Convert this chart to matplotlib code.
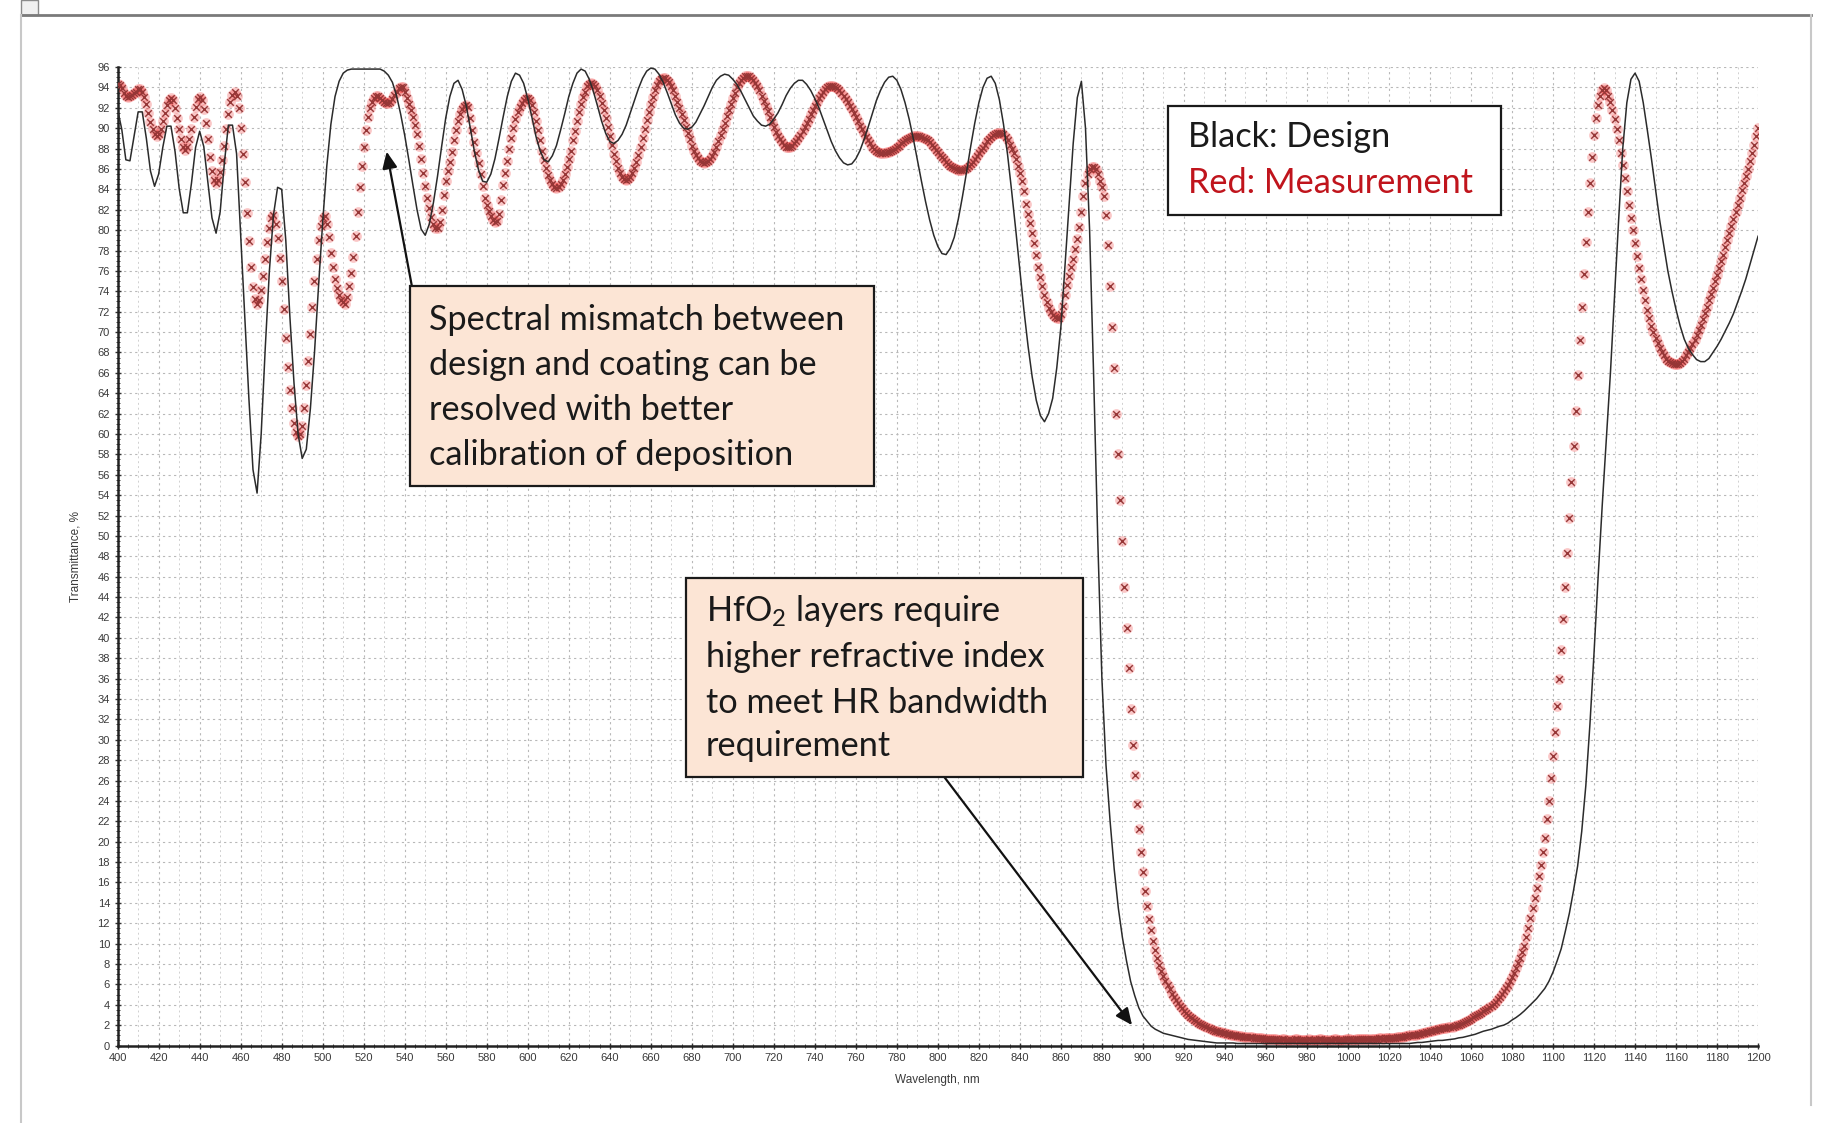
import numpy as np
import matplotlib
matplotlib.use("Agg")
import matplotlib.pyplot as plt
from matplotlib.patches import Rectangle
from matplotlib.lines import Line2D
from matplotlib.ticker import MultipleLocator

plt.rcParams['font.family'] = ['Liberation Sans', 'DejaVu Sans']
plt.rcParams['mathtext.fontset'] = 'custom'
plt.rcParams['mathtext.rm'] = 'Lato'

meas_wavelength = np.arange(400, 1201, 1)
meas_T = [
    94.3, 94.2, 93.9, 93.5, 93.2, 93.1, 93.2, 93.3, 93.5, 93.6, 93.8, 93.8, 93.6, 93.1, 92.4, 91.5, 90.6, 89.9, 89.4, 89.2,
    89.4, 89.9, 90.7, 91.5, 92.3, 92.8, 93.0, 92.8, 92.0, 91.0, 89.9, 88.9, 88.2, 87.9, 88.2, 88.9, 89.9, 91.1, 92.1, 92.9,
    93.1, 92.8, 91.9, 90.5, 88.9, 87.2, 85.8, 84.9, 84.6, 84.9, 85.7, 86.9, 88.3, 89.9, 91.4, 92.6, 93.3, 93.6, 93.2, 92.0,
    90.0, 87.5, 84.7, 81.7, 78.9, 76.4, 74.4, 73.2, 72.8, 73.1, 74.1, 75.5, 77.2, 78.8, 80.2, 81.2, 81.5, 80.6, 79.2, 77.3,
    75.0, 72.3, 69.4, 66.6, 64.3, 62.5, 61.1, 60.2, 59.8, 60.0, 60.8, 62.5, 64.8, 67.2, 69.8, 72.5, 75.0, 77.2, 79.0, 80.4,
    81.2, 81.4, 80.6, 79.3, 77.8, 76.4, 75.2, 74.3, 73.6, 73.1, 72.9, 72.8, 73.4, 74.5, 75.8, 77.4, 79.4, 81.8, 84.2, 86.3,
    88.2, 89.8, 91.1, 92.0, 92.6, 93.0, 93.2, 93.2, 93.0, 92.8, 92.6, 92.5, 92.5, 92.6, 92.9, 93.3, 93.6, 93.9, 94.0, 94.0,
    93.6, 93.0, 92.4, 91.8, 91.1, 90.3, 89.4, 88.3, 87.0, 85.6, 84.3, 83.2, 82.2, 81.3, 80.6, 80.2, 80.2, 80.8, 82.0, 83.4,
    84.8, 85.8, 86.7, 87.7, 88.8, 89.8, 90.7, 91.4, 91.9, 92.2, 92.3, 92.1, 91.0, 89.8, 88.6, 87.6, 86.6, 85.5, 84.3, 83.2,
    82.5, 81.9, 81.4, 81.0, 80.8, 80.9, 81.6, 83.0, 84.4, 85.6, 86.8, 88.0, 89.0, 90.0, 90.9, 91.6, 92.1, 92.5, 92.8, 93.0,
    93.0, 92.8, 92.3, 91.6, 90.7, 89.8, 88.8, 87.8, 86.9, 86.1, 85.4, 84.9, 84.5, 84.2, 84.1, 84.2, 84.5, 84.9, 85.5, 86.2,
    87.0, 87.8, 88.8, 89.7, 90.7, 91.6, 92.4, 93.1, 93.6, 94.1, 94.3, 94.4, 94.3, 94.1, 93.7, 93.2, 92.5, 91.8, 91.0, 90.1,
    89.2, 88.4, 87.5, 86.8, 86.1, 85.6, 85.2, 85.0, 84.9, 85.0, 85.2, 85.6, 86.1, 86.7, 87.4, 88.2, 89.0, 89.9, 90.8, 91.6,
    92.4, 93.1, 93.7, 94.2, 94.6, 94.8, 94.9, 94.9, 94.7, 94.5, 94.1, 93.7, 93.2, 92.6, 92.0, 91.4, 90.8, 90.1, 89.5, 88.9,
    88.3, 87.8, 87.4, 87.1, 86.8, 86.7, 86.6, 86.7, 86.8, 87.0, 87.3, 87.7, 88.2, 88.7, 89.3, 89.9, 90.5, 91.2, 91.8, 92.4,
    93.0, 93.5, 94.0, 94.4, 94.7, 94.9, 95.1, 95.1, 95.1, 94.9, 94.7, 94.4, 94.1, 93.7, 93.2, 92.7, 92.2, 91.7, 91.1, 90.6,
    90.1, 89.6, 89.2, 88.9, 88.6, 88.4, 88.2, 88.2, 88.2, 88.3, 88.5, 88.7, 89.0, 89.3, 89.7, 90.1, 90.5, 90.9, 91.4, 91.8,
    92.2, 92.6, 93.0, 93.3, 93.6, 93.8, 94.0, 94.1, 94.1, 94.1, 94.0, 93.9, 93.7, 93.5, 93.2, 92.9, 92.6, 92.2, 91.9, 91.5,
    91.1, 90.7, 90.2, 89.9, 89.5, 89.1, 88.8, 88.5, 88.2, 88.0, 87.8, 87.7, 87.6, 87.6, 87.6, 87.7, 87.7, 87.8, 87.9, 88.0,
    88.2, 88.3, 88.5, 88.6, 88.8, 88.9, 89.0, 89.1, 89.2, 89.2, 89.2, 89.2, 89.1, 89.0, 88.9, 88.8, 88.6, 88.4, 88.2, 87.9,
    87.7, 87.4, 87.2, 87.0, 86.7, 86.5, 86.3, 86.2, 86.1, 86.0, 85.9, 85.9, 85.9, 86.0, 86.1, 86.3, 86.5, 86.7, 87.0, 87.3,
    87.6, 87.9, 88.1, 88.4, 88.7, 88.9, 89.1, 89.3, 89.4, 89.5, 89.5, 89.5, 89.4, 89.1, 88.8, 88.4, 88.0, 87.6, 87.0, 86.3,
    85.6, 84.8, 83.8, 82.6, 81.6, 80.7, 79.7, 78.7, 77.6, 76.4, 75.4, 74.5, 73.6, 72.9, 72.4, 72.0, 71.7, 71.5, 71.4, 71.4,
    71.8, 72.6, 73.6, 74.6, 75.5, 76.4, 77.2, 78.1, 79.1, 80.3, 81.8, 83.3, 84.6, 85.5, 86.0, 86.2, 86.2, 86.0, 85.5, 84.8,
    84.2, 83.3, 81.5, 78.5, 74.5, 70.5, 66.5, 62.0, 58.0, 53.5, 49.5, 45.0, 41.0, 37.0, 33.0, 29.5, 26.5, 23.7, 21.2, 19.0,
    17.0, 15.2, 13.7, 12.4, 11.3, 10.3, 9.4, 8.6, 7.9, 7.3, 6.8, 6.3, 5.9, 5.5, 5.1, 4.8, 4.5, 4.2, 3.9, 3.7,
    3.4, 3.2, 3.0, 2.8, 2.7, 2.5, 2.4, 2.2, 2.1, 2.0, 1.9, 1.8, 1.7, 1.6, 1.5, 1.45, 1.4, 1.35, 1.3, 1.25,
    1.2, 1.15, 1.1, 1.05, 1.0, 1.0, 0.95, 0.9, 0.9, 0.85, 0.85, 0.8, 0.8, 0.8, 0.75, 0.75, 0.7, 0.7, 0.7, 0.65,
    0.65, 0.65, 0.6, 0.6, 0.6, 0.6, 0.55, 0.55, 0.6, 0.6, 0.55, 0.55, 0.5, 0.55, 0.6, 0.6, 0.55, 0.5, 0.5, 0.55,
    0.55, 0.6, 0.55, 0.5, 0.5, 0.55, 0.6, 0.6, 0.55, 0.5, 0.5, 0.55, 0.55, 0.6, 0.6, 0.55, 0.55, 0.5, 0.55, 0.6,
    0.6, 0.6, 0.55, 0.55, 0.6, 0.6, 0.65, 0.6, 0.6, 0.6, 0.65, 0.65, 0.6, 0.65, 0.65, 0.7, 0.7, 0.65, 0.7, 0.7,
    0.7, 0.72, 0.75, 0.78, 0.8, 0.82, 0.85, 0.88, 0.9, 0.95, 1.0, 1.02, 1.05, 1.08, 1.1, 1.15, 1.2, 1.25, 1.3, 1.35,
    1.4, 1.45, 1.5, 1.55, 1.6, 1.65, 1.7, 1.72, 1.75, 1.78, 1.8, 1.85, 1.9, 2.0, 2.05, 2.15, 2.25, 2.35, 2.45, 2.55,
    2.65, 2.75, 2.85, 3.0, 3.1, 3.2, 3.35, 3.5, 3.6, 3.75, 3.9, 4.1, 4.3, 4.55, 4.8, 5.05, 5.3, 5.6, 5.9, 6.3,
    6.7, 7.1, 7.6, 8.1, 8.6, 9.2, 9.8, 10.6, 11.5, 12.5, 13.5, 14.5, 15.5, 16.6, 17.7, 19.0, 20.4, 22.2, 24.0, 26.2,
    28.4, 30.8, 33.3, 36.0, 38.8, 41.8, 45.0, 48.3, 51.8, 55.3, 58.8, 62.3, 65.8, 69.2, 72.5, 75.7, 78.8, 81.8, 84.6, 87.2,
    89.3, 91.0, 92.3, 93.2, 93.7, 93.9, 93.7, 93.2, 92.6, 91.8, 90.9, 89.9, 88.8, 87.6, 86.4, 85.1, 83.8, 82.5, 81.2, 80.0,
    78.7, 77.5, 76.3, 75.2, 74.1, 73.1, 72.2, 71.4, 70.6, 70.0, 69.4, 68.9, 68.4, 68.0, 67.7, 67.4, 67.2, 67.1, 67.0, 66.9,
    66.9, 66.9, 67.0, 67.2, 67.4, 67.7, 68.0, 68.4, 68.8, 69.2, 69.7, 70.2, 70.7, 71.3, 71.9, 72.5, 73.1, 73.7, 74.3, 75.0,
    75.6, 76.3, 77.0, 77.6, 78.3, 79.0, 79.7, 80.4, 81.1, 81.8, 82.5, 83.2, 83.9, 84.6, 85.3, 86.0, 86.8, 87.6, 88.4, 89.2,
    90.0,
]

# design transmittance, 2 nm steps
design_wavelength = np.arange(400, 1201, 2)
design_T = [
    91.8, 89.9, 86.9, 86.8, 89.2, 91.6, 91.6, 89.0, 85.8, 84.3,
    85.5, 88.1, 90.2, 90.2, 87.7, 84.1, 81.7, 81.7, 84.6, 88.1,
    89.7, 88.2, 84.7, 81.2, 79.7, 81.8, 86.5, 90.3, 90.3, 87.5,
    79.5, 71.5, 63.5, 56.5, 54.2, 60.0, 68.5, 76.0, 81.5, 84.2,
    84.0, 79.0, 71.5, 65.0, 60.0, 57.6, 58.5, 62.5, 68.0, 74.6,
    80.8, 86.3, 90.4, 93.1, 94.6, 95.4, 95.7, 95.8, 95.8, 95.8,
    95.8, 95.8, 95.8, 95.8, 95.8, 95.6, 95.2, 94.5, 93.2, 91.4,
    89.3, 86.9, 84.4, 82.0, 80.1, 79.5, 80.6, 82.7, 85.3, 88.2,
    91.0, 93.1, 94.4, 94.7, 93.8, 92.2, 90.0, 87.7, 85.9, 84.8,
    84.7, 85.5, 87.0, 89.0, 91.1, 93.1, 94.6, 95.4, 95.2, 94.4,
    92.9, 91.1, 89.2, 87.8, 86.9, 86.7, 87.3, 88.3, 89.8, 91.4,
    93.1, 94.4, 95.4, 95.8, 95.6, 94.8, 93.6, 92.2, 90.7, 89.5,
    88.7, 88.5, 88.8, 89.4, 90.3, 91.5, 92.7, 93.9, 94.9, 95.6,
    95.9, 95.8, 95.3, 94.5, 93.5, 92.4, 91.3, 90.5, 90.0, 89.9,
    90.1, 90.6, 91.4, 92.2, 93.1, 94.0, 94.7, 95.1, 95.3, 95.2,
    94.8, 94.3, 93.6, 92.8, 92.0, 91.2, 90.7, 90.3, 90.2, 90.4,
    90.9, 91.5, 92.3, 93.2, 93.9, 94.4, 94.7, 94.7, 94.3, 93.7,
    92.9, 92.0, 90.9, 89.8, 88.7, 87.8, 87.1, 86.6, 86.4, 86.5,
    87.0, 87.8, 88.9, 90.1, 91.4, 92.7, 93.7, 94.5, 95.0, 95.1,
    94.7, 93.8, 92.5, 90.9, 89.0, 86.9, 84.8, 82.8, 81.0, 79.5,
    78.4, 77.7, 77.6, 78.2, 79.3, 81.1, 83.3, 85.7, 88.2, 90.5,
    92.5, 94.0, 94.9, 95.1, 94.4, 92.8, 90.4, 87.4, 83.8, 80.0,
    76.0, 72.1, 68.6, 65.6, 63.3, 61.8, 61.2, 62.0, 63.5, 66.5,
    70.5, 76.5, 82.5, 88.5, 93.0, 94.6, 90.0, 80.0, 65.5, 49.5,
    36.0, 27.5, 22.0, 17.3, 13.5, 10.6, 8.3, 6.3, 4.9, 3.7,
    2.9, 2.4, 1.9, 1.6, 1.4, 1.2, 1.1, 1.0, 0.9, 0.8,
    0.7, 0.6, 0.55, 0.5, 0.45, 0.4, 0.35, 0.3, 0.25, 0.25,
    0.25, 0.25, 0.25, 0.2, 0.2, 0.2, 0.2, 0.2, 0.2, 0.2,
    0.2, 0.2, 0.2, 0.2, 0.2, 0.2, 0.2, 0.2, 0.2, 0.2,
    0.2, 0.2, 0.2, 0.2, 0.2, 0.2, 0.2, 0.2, 0.2, 0.2,
    0.2, 0.2, 0.2, 0.2, 0.2, 0.2, 0.2, 0.2, 0.2, 0.2,
    0.2, 0.2, 0.2, 0.2, 0.2, 0.2, 0.25, 0.3, 0.3, 0.35,
    0.4, 0.45, 0.5, 0.5, 0.55, 0.6, 0.65, 0.75, 0.8, 0.9,
    1.0, 1.1, 1.25, 1.4, 1.5, 1.6, 1.75, 1.9, 2.0, 2.2,
    2.5, 2.75, 3.05, 3.4, 3.8, 4.2, 4.6, 5.1, 5.6, 6.3,
    7.2, 8.3, 9.5, 11.2, 13.0, 15.2, 17.6, 21.0, 25.5, 31.5,
    38.5, 46.0, 53.0, 59.5, 66.0, 73.5, 81.0, 88.0, 92.5, 94.8,
    95.4, 94.6, 92.5, 89.8, 87.0, 84.0, 81.0, 78.5, 76.0, 74.0,
    72.2, 70.6, 69.3, 68.4, 67.8, 67.3, 67.1, 67.1, 67.4, 68.0,
    68.6, 69.3, 70.1, 70.9, 71.8, 72.9, 74.0, 75.2, 76.6, 78.0,
    79.4,
]

assert len(meas_T) == len(meas_wavelength)
assert len(design_T) == len(design_wavelength)

x_ticks = list(range(400, 1201, 20))
y_ticks = list(range(0, 97, 2))

fig = plt.figure(figsize=(18.44, 11.23), dpi=100)
ax = fig.add_axes([0.0638, 0.069, 0.8896, 0.8713])

# faint 10 nm vertical lines between the labelled ones
for xv in range(410, 1200, 20):
    ax.axvline(xv, color='#d0d0d0', lw=0.7, ls=(0, (2, 3)), zorder=0)
ax.grid(which='major', color='#b8b8b8', lw=0.8, ls=(0, (2, 3)), zorder=0)
ax.set_axisbelow(True)

# measurement: red crosses with a soft halo
ax.scatter(meas_wavelength, meas_T, s=60, marker='o', color='#ee2a2a',
           alpha=0.26, linewidths=0, zorder=2)
ax.scatter(meas_wavelength, meas_T, s=22, marker='x', color='#963636',
           linewidths=1.0, zorder=3)
# design: thin dark line
ax.plot(design_wavelength, design_T, color='#2b2b2b', lw=1.1, zorder=4)

ax.set_xlim(400, 1200)
ax.set_ylim(0, 96)
ax.set_xticks(x_ticks)
ax.set_yticks(y_ticks)
ax.xaxis.set_minor_locator(MultipleLocator(5))
ax.yaxis.set_minor_locator(MultipleLocator(0.5))
ax.tick_params(which='major', direction='inout', length=5, width=1.0,
               color='#333333', labelcolor='#3a3a3a', labelsize=8, pad=3)
ax.tick_params(which='minor', direction='inout', length=3, width=0.7,
               color='#444444')

for side in ['top', 'right']:
    ax.spines[side].set_visible(False)
for side in ['left', 'bottom']:
    ax.spines[side].set_color('#222222')
    ax.spines[side].set_linewidth(1.8)

ax.set_xlabel('Wavelength, nm', fontsize=8.5, color='#3a3a3a')
ax.set_ylabel('Transmittance, %', fontsize=8.5, color='#3a3a3a')
ax.xaxis.set_label_coords(0.5, -0.029)
ax.yaxis.set_label_coords(-0.022, 0.5)

box_font = dict(family=['Lato', 'DejaVu Sans'], fontsize=24.7, color='#1a1a1a',
                ha='left', va='center', zorder=7)

# annotation 1
ax.annotate('', xy=(531.2, 87.7), xytext=(543.4, 74.6),
            arrowprops=dict(arrowstyle='-|>,head_length=1.0,head_width=0.45',
                            color='#111111', lw=1.6, shrinkA=0, shrinkB=0),
            zorder=5)
ax.add_patch(Rectangle((542.8, 54.9), 226.0, 19.65, facecolor='#fce5d5',
                       edgecolor='#1a1a1a', lw=1.6, zorder=6))
for txt, yy in zip(['Spectral mismatch between', 'design and coating can be',
                    'resolved with better', 'calibration of deposition'],
                   [71.2, 66.8, 62.4, 57.9]):
    ax.text(551.9, yy, txt, **box_font)

# annotation 2
ax.annotate('', xy=(894.7, 2.0), xytext=(803.3, 26.3),
            arrowprops=dict(arrowstyle='-|>,head_length=1.0,head_width=0.45',
                            color='#111111', lw=1.6, shrinkA=0, shrinkB=0),
            zorder=5)
ax.add_patch(Rectangle((677.0, 26.3), 193.9, 19.6, facecolor='#fce5d5',
                       edgecolor='#1a1a1a', lw=1.6, zorder=6))
for txt, yy in zip([r'HfO$_2$ layers require', 'higher refractive index',
                    'to meet HR bandwidth', 'requirement'],
                   [42.6, 38.1, 33.65, 29.35]):
    ax.text(686.8, yy, txt, **box_font)

# legend box
ax.add_patch(Rectangle((912.2, 81.5), 162.3, 10.7, facecolor='white',
                       edgecolor='#1a1a1a', lw=1.6, zorder=6))
ax.text(921.9, 89.15, 'Black: Design', **box_font)
ax.text(921.9, 84.65, 'Red: Measurement', **{**box_font, 'color': '#c0141c'})

# window frame of the screenshot
frame = dict(transform=fig.transFigure, color='#7a7a7a', lw=2.0)
fig.add_artist(Line2D([0.0114, 0.982], [0.9866, 0.9866], **frame))
fig.add_artist(Line2D([0.0114, 0.0114], [0.0, 0.9866], color='#c8c8c8', lw=1.5,
                      transform=fig.transFigure))
fig.add_artist(Line2D([0.982, 0.982], [0.016, 0.9866], color='#c8c8c8', lw=1.5,
                      transform=fig.transFigure))
fig.add_artist(Rectangle((0.0114, 0.9866), 0.009, 0.0134, transform=fig.transFigure,
                         facecolor='#f0f0f0', edgecolor='#8a8a8a', lw=1.0))

fig.savefig('out.png', dpi=100, facecolor='white')
